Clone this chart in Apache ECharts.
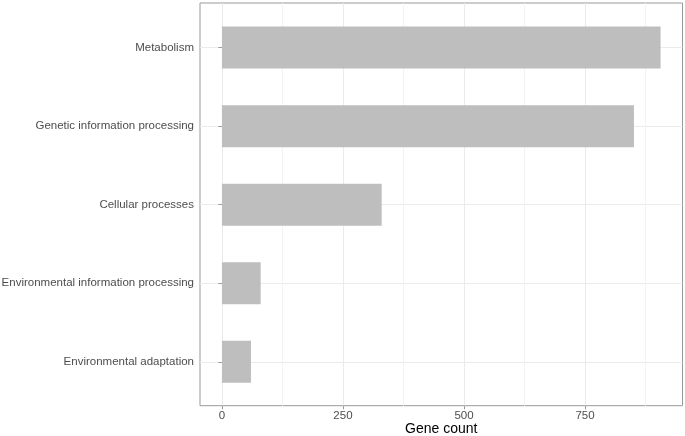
<!DOCTYPE html>
<html><head><meta charset="utf-8">
<script src="https://cdn.jsdelivr.net/npm/echarts@6/dist/echarts.min.js"></script>
<style>html,body{margin:0;padding:0;background:#fff}#c{width:685px;height:436px}</style>
</head><body><div id="c"></div>
<script>
const categories = ['Metabolism', 'Genetic information processing', 'Cellular processes', 'Environmental information processing', 'Environmental adaptation'];
const geneCounts = [906, 851, 330, 80, 60];
const majorTicks = [0, 250, 500, 750];
const minorTicks = [125, 375, 625, 875];
const xTitle = 'Gene count';

const maxCount = Math.max(...geneCounts);
const xMin = -0.05 * maxCount, xMax = 1.05 * maxCount;
const font = '"Liberation Sans", Arial, sans-serif';
const chart = echarts.init(document.getElementById('c'), null, {renderer: 'canvas'});
const option = {
  animation: false,
  backgroundColor: '#ffffff',
  grid: [
    {left: 200, right: 2.5, top: 3, bottom: 30.3, show: true, borderColor: '#999999', borderWidth: 1, backgroundColor: 'transparent', outerBoundsMode: 'none'},
    {left: 200, right: 2.5, top: 47.6, bottom: 74.2, outerBoundsMode: 'none'}
  ],
  xAxis: [
    {gridIndex: 0, type: 'value', min: xMin, max: xMax,
     axisLine: {show: false},
     axisTick: {show: true, length: 3.6, lineStyle: {color: '#999999'}, customValues: majorTicks},
     axisLabel: {customValues: majorTicks, color: '#4d4d4d', fontSize: 11.5, margin: 4, fontFamily: font},
     splitLine: {show: true, lineStyle: {color: '#ebebeb', width: 1}},
     name: xTitle, nameLocation: 'middle', nameGap: 16, nameMoveOverlap: false,
     nameTextStyle: {color: '#000000', fontSize: 14, fontFamily: font}},
    {gridIndex: 0, type: 'value', min: xMin, max: xMax,
     axisLine: {show: false},
     axisTick: {show: false, customValues: minorTicks},
     axisLabel: {show: false},
     splitLine: {show: true, lineStyle: {color: '#f3f3f3', width: 1}}},
    {gridIndex: 1, type: 'value', min: xMin, max: xMax, show: false}
  ],
  yAxis: [
    {gridIndex: 0, type: 'value', show: false},
    {gridIndex: 1, type: 'category', data: categories, inverse: true, boundaryGap: false,
     axisLine: {show: false},
     axisTick: {show: true, length: 3.6, lineStyle: {color: '#999999'}},
     axisLabel: {color: '#4d4d4d', fontSize: 11.5, margin: 6, fontFamily: font, interval: 0},
     splitLine: {show: true, lineStyle: {color: '#ebebeb', width: 1}}}
  ],
  series: [
    {type: 'bar', xAxisIndex: 2, yAxisIndex: 1, data: geneCounts, barWidth: 42, clip: false,
     itemStyle: {color: '#bebebe'}, z: 5}
  ]
};
chart.setOption(option);
</script>
</body></html>
